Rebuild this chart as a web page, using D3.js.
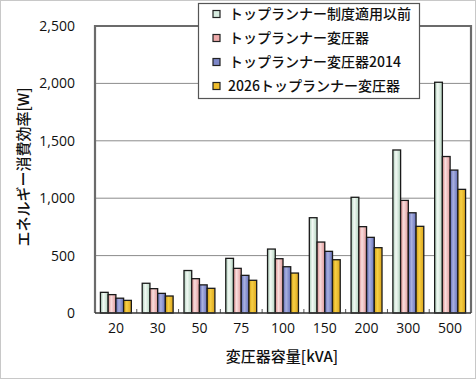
<!DOCTYPE html>
<html>
<head>
<meta charset="utf-8">
<script src="https://cdn.jsdelivr.net/npm/d3@7"></script>
<style>
  body { margin: 0; background: #fff; }
  svg { display: block; font-family: "Noto Sans CJK JP", "Noto Sans", sans-serif; }
</style>
</head>
<body>
<div id="chart"></div>
<script>
// capacities on the x axis
var categories = ['20', '30', '50', '75', '100', '150', '200', '300', '500'];
var seriesNames = ['トップランナー制度適用以前', 'トップランナー変圧器', 'トップランナー変圧器2014', '2026トップランナー変圧器'];
var before = [180, 259, 370, 476, 557, 830, 1008, 1420, 2010];
var topRunner = [160, 212, 299, 389, 473, 618, 752, 981, 1363];
var topRunner2014 = [129, 171, 245, 328, 403, 537, 659, 873, 1245];
var topRunner2026 = [110, 148, 215, 285, 348, 464, 569, 755, 1077];
var yTicks = [0, 500, 1000, 1500, 2000, 2500];

var width = 476,
    height = 379,
    margin = {top: 26, right: 5, bottom: 66, left: 95};

var series = [before, topRunner, topRunner2014, topRunner2026];
// gradient stops per series: edge, highlight, edge
var shades = [
  ['#a9cbb6', '#f3faf5', '#b3d3bf'],
  ['#d98a8a', '#f9dede', '#df9797'],
  ['#5d68b4', '#a9b1e0', '#6771bb'],
  ['#d29c10', '#f6cf46', '#dca51a']
];
var swatch = ['#d7ece0', '#eeaaaa', '#7d87c8', '#efbd2c'];

var svg = d3.select('#chart').append('svg')
  .attr('width', width)
  .attr('height', height);

// outer frame of the picture
svg.append('rect')
  .attr('x', 0.5).attr('y', 0.5)
  .attr('width', width - 1).attr('height', height - 1)
  .attr('fill', 'none').attr('stroke', '#c8c8c8');

var defs = svg.append('defs');
shades.forEach(function(s, i) {
  var g = defs.append('linearGradient').attr('id', 'grad' + i)
    .attr('x1', '0%').attr('x2', '100%').attr('y1', '0%').attr('y2', '0%');
  g.append('stop').attr('offset', '0%').attr('stop-color', s[0]);
  g.append('stop').attr('offset', '40%').attr('stop-color', s[1]);
  g.append('stop').attr('offset', '100%').attr('stop-color', s[2]);
});

var plotW = width - margin.left - margin.right,
    plotH = height - margin.top - margin.bottom;

var x = d3.scaleBand().domain(categories).range([0, plotW]).paddingInner(0.26).paddingOuter(0.13);
var xBand = d3.scaleBand().domain(categories).range([0, plotW]);
var xSub = d3.scaleBand().domain(d3.range(series.length)).range([0, x.bandwidth()]);
var y = d3.scaleLinear().domain([0, 2500]).range([plotH, 0]);

var g = svg.append('g').attr('transform', 'translate(' + margin.left + ',' + margin.top + ')');

// gridlines
g.selectAll('line.grid')
  .data(yTicks.slice(1, -1))
  .enter().append('line')
  .attr('x1', 0).attr('x2', plotW)
  .attr('y1', function(d) { return y(d); })
  .attr('y2', function(d) { return y(d); })
  .attr('stroke', '#8c8c8c').attr('stroke-width', 1);

// bars
series.forEach(function(vals, si) {
  g.selectAll('rect.s' + si)
    .data(vals)
    .enter().append('rect')
    .attr('x', function(d, i) { return x(categories[i]) + xSub(si); })
    .attr('y', function(d) { return y(d); })
    .attr('width', xSub.bandwidth())
    .attr('height', function(d) { return plotH - y(d); })
    .attr('fill', 'url(#grad' + si + ')')
    .attr('stroke', '#1a1a1a')
    .attr('stroke-width', 1.3);
});

// small ticks between categories
g.selectAll('line.xt')
  .data(categories.slice(1))
  .enter().append('line')
  .attr('x1', function(d) { return xBand(d); })
  .attr('x2', function(d) { return xBand(d); })
  .attr('y1', plotH).attr('y2', plotH - 4)
  .attr('stroke', '#555').attr('stroke-width', 1);

// frame of the plot area
g.append('path')
  .attr('d', 'M0,' + plotH + 'V0H' + plotW + 'V' + plotH)
  .attr('fill', 'none').attr('stroke', '#6b6b6b').attr('stroke-width', 2.2);
g.append('line')
  .attr('x1', 0).attr('x2', plotW).attr('y1', plotH).attr('y2', plotH)
  .attr('stroke', '#333').attr('stroke-width', 1.6);

// y axis labels
var yAxis = d3.axisLeft(y).tickValues(yTicks).tickSize(0).tickPadding(20)
  .tickFormat(d3.format(','));
g.append('g').call(yAxis)
  .call(function(s) { s.select('.domain').remove(); })
  .selectAll('text')
  .attr('font-size', 14).attr('fill', '#111')
  .attr('font-family', '"Open Sans", "Noto Sans", sans-serif');

// x axis labels
var xAxis = d3.axisBottom(xBand).tickSize(0).tickPadding(10);
g.append('g').attr('transform', 'translate(0,' + plotH + ')').call(xAxis)
  .call(function(s) { s.select('.domain').remove(); })
  .selectAll('text')
  .attr('font-size', 14).attr('fill', '#111')
  .attr('font-family', '"Open Sans", "Noto Sans", sans-serif');

// axis titles
svg.append('text')
  .attr('x', 282).attr('y', 362)
  .attr('text-anchor', 'middle')
  .attr('font-size', 15).attr('font-weight', 500).attr('fill', '#111')
  .text('変圧器容量[kVA]');

svg.append('text')
  .attr('transform', 'translate(29,167) rotate(-90)')
  .attr('text-anchor', 'middle')
  .attr('font-size', 15).attr('font-weight', 500).attr('fill', '#111')
  .text('エネルギー消費効率[W]');

// legend
var legend = svg.append('g').attr('transform', 'translate(198,3)');
legend.append('rect')
  .attr('x', 0.5).attr('y', 0.5).attr('width', 221).attr('height', 95)
  .attr('fill', '#fff').attr('stroke', '#555').attr('stroke-width', 1.2);

var item = legend.selectAll('g.item')
  .data(seriesNames)
  .enter().append('g')
  .attr('transform', function(d, i) { return 'translate(0,' + (11 + i * 24) + ')'; });

item.append('rect')
  .attr('x', 15).attr('y', -3.5).attr('width', 7).attr('height', 7)
  .attr('fill', function(d, i) { return swatch[i]; })
  .attr('stroke', '#222').attr('stroke-width', 1.2);

item.append('text')
  .attr('x', function(d, i) { return i === 3 ? 30 : 31; })
  .attr('y', 0).attr('dy', '0.35em')
  .attr('font-size', 14).attr('font-weight', 500).attr('fill', '#111')
  .text(function(d) { return d; });
</script>
</body>
</html>
